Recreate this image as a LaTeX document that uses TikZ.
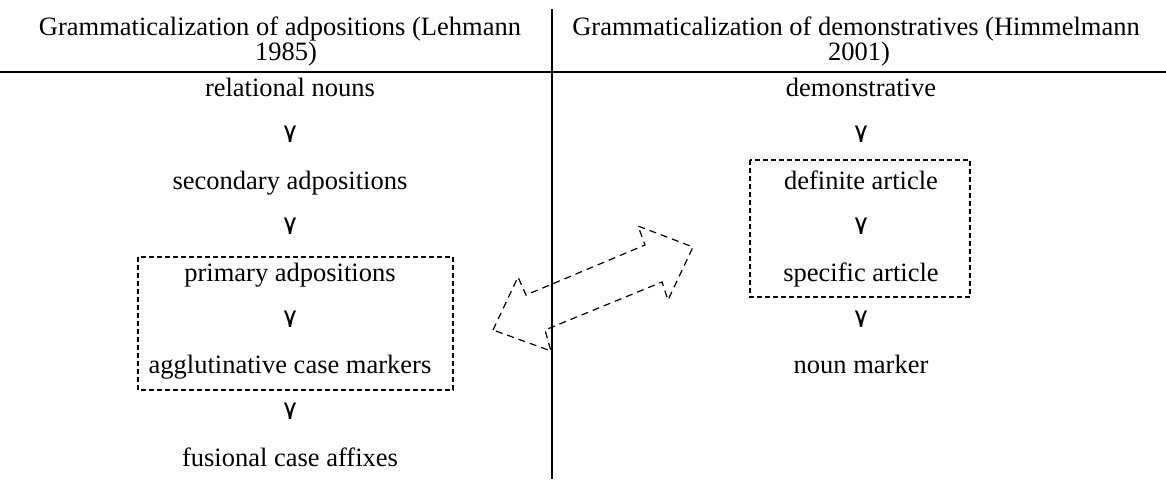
\documentclass[tikz,border=0pt]{standalone}
\usepackage{fontspec}
\setmainfont{Liberation Serif}
\newfontfamily\arabicfont[Script=Arabic]{DejaVu Sans}
\begin{document}
\begin{tikzpicture}[x=1pt,y=-1pt,
  every node/.style={font=\fontsize{26.5}{25}\selectfont, inner sep=0pt},
  txt/.style={anchor=base},
  sym/.style={font=\arabicfont\fontsize{26}{26}\selectfont},
  rule/.style={line width=1.5pt},
  grp/.style={draw, line width=1.2pt, dash pattern=on 5pt off 3pt},
  dbl/.style={draw, line width=1.2pt, dash pattern=on 7pt off 5pt}]
\useasboundingbox (0,0) rectangle (1166,479);
% headers
\node[txt] (hl1) at (280,35) {Grammaticalization of adpositions (Lehmann};
\node[txt] (hl2) at (286,60) {1985)};
\node[txt] (hr1) at (856,35) {Grammaticalization of demonstratives (Himmelmann};
\node[txt] (hr2) at (859,60) {2001)};
% rules
\draw[rule] (0,72) -- (1166,72);
\draw[rule] (552,9) -- (552,479);
% left column
\node[txt] (l1) at (290,96) {relational nouns};
\node[sym] (la1) at (290,134) {٧};
\node[txt] (l2) at (290,189) {secondary adpositions};
\node[sym] (la2) at (290,226.5) {٧};
\node[txt] (l3) at (290,281) {primary adpositions};
\node[sym] (la3) at (290,319) {٧};
\node[txt] (l4) at (290,373) {agglutinative case markers};
\node[sym] (la4) at (290,411.5) {٧};
\node[txt] (l5) at (290,466) {fusional case affixes};
% right column
\node[txt] (r1) at (861,96) {demonstrative};
\node[sym] (ra1) at (861,134) {٧};
\node[txt] (r2) at (861,189) {definite article};
\node[sym] (ra2) at (861,226.5) {٧};
\node[txt] (r3) at (861,281) {specific article};
\node[sym] (ra3) at (861,319) {٧};
\node[txt] (r4) at (861,373) {noun marker};
% dashed groups
\draw[grp] (138,257) rectangle (453,390);
\draw[grp] (750,160) rectangle (970,297);
% double arrow
\draw[dbl] (493,330) -- (518,277) -- (526,295) -- (645,245) -- (638,226) -- (693,247)
  -- (668,300) -- (662,282) -- (545,330) -- (551,351) -- cycle;
\end{tikzpicture}
\end{document}
